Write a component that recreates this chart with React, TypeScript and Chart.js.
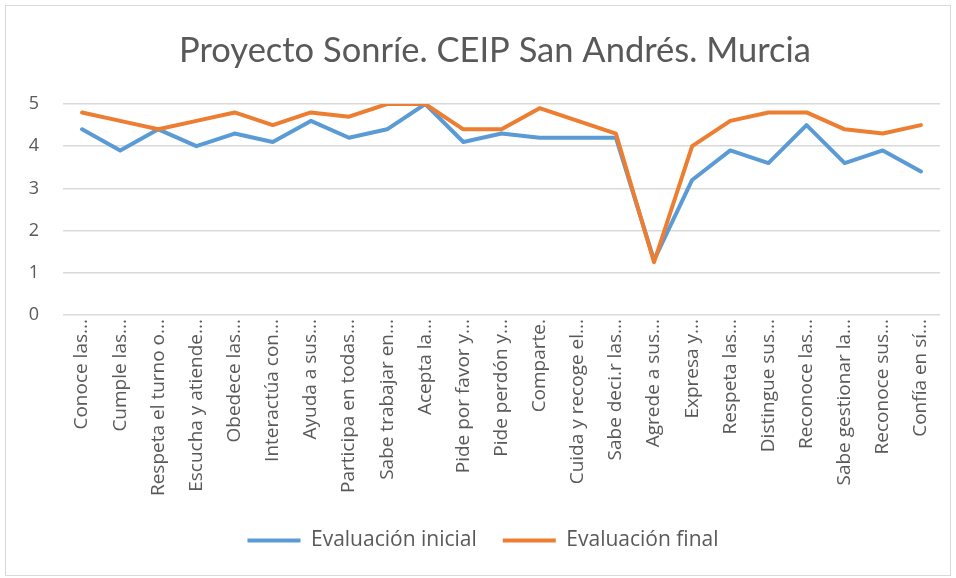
import React, { useEffect, useRef } from "react";
import { Chart, registerables } from "chart.js";

Chart.register(...registerables);

const TITLE = "Proyecto Sonríe. CEIP San Andrés. Murcia";

const categories: string[] = [
  "Conoce las...",
  "Cumple las...",
  "Respeta el turno o...",
  "Escucha y atiende...",
  "Obedece las...",
  "Interactúa con...",
  "Ayuda a sus...",
  "Participa en todas...",
  "Sabe trabajar en...",
  "Acepta la...",
  "Pide por favor y...",
  "Pide perdón y...",
  "Comparte.",
  "Cuida y recoge el...",
  "Sabe deci.r las...",
  "Agrede a sus...",
  "Expresa y...",
  "Respeta las...",
  "Distingue sus...",
  "Reconoce las...",
  "Sabe gestionar la...",
  "Reconoce sus...",
  "Confía en sí...",
];

const inicialLabel = "Evaluación inicial";
const finalLabel = "Evaluación final";

const inicial: number[] = [
  4.4, 3.9, 4.4, 4.0, 4.3, 4.1, 4.6, 4.2, 4.4, 5.0, 4.1, 4.3,
  4.2, 4.2, 4.2, 1.3, 3.2, 3.9, 3.6, 4.5, 3.6, 3.9, 3.4,
];

const final: number[] = [
  4.8, 4.6, 4.4, 4.6, 4.8, 4.5, 4.8, 4.7, 5.0, 5.0, 4.4, 4.4,
  4.9, 4.6, 4.3, 1.25, 4.0, 4.6, 4.8, 4.8, 4.4, 4.3, 4.5,
];

const yTicks: number[] = [0, 1, 2, 3, 4, 5];

const BLUE = "#5B9BD5";
const ORANGE = "#ED7D31";
const TEXT = "#595959";
const GRID = "#D9D9D9";

const titlePlugin = {
  id: "excelTitle",
  afterDraw(chart: any) {
    const ctx = chart.ctx;
    ctx.save();
    ctx.font = "normal 34.5px Lato, 'Open Sans', sans-serif";
    ctx.fillStyle = TEXT;
    ctx.textAlign = "center";
    ctx.textBaseline = "middle";
    ctx.fillText(TITLE, 489, 45);
    ctx.restore();
  },
};

export default function App() {
  const ref = useRef<HTMLCanvasElement | null>(null);

  useEffect(() => {
    if (!ref.current) return;
    const chart = new Chart(ref.current, {
      type: "line",
      data: {
        labels: categories,
        datasets: [
          {
            label: inicialLabel,
            data: inicial,
            borderColor: BLUE,
            backgroundColor: BLUE,
            borderWidth: 4,
            pointRadius: 0,
            tension: 0,
            order: 1,
            borderJoinStyle: "round",
            borderCapStyle: "round",
          },
          {
            label: finalLabel,
            data: final,
            borderColor: ORANGE,
            backgroundColor: ORANGE,
            borderWidth: 4,
            pointRadius: 0,
            tension: 0,
            order: 0,
            borderJoinStyle: "round",
            borderCapStyle: "round",
          },
        ],
      },
      plugins: [titlePlugin],
      options: {
        animation: false,
        responsive: false,
        maintainAspectRatio: false,
        layout: { padding: { left: 20, right: 10, top: 98, bottom: 14 } },
        plugins: {
          title: { display: false },
          legend: {
            position: "bottom",
            labels: {
              color: TEXT,
              font: { family: "'Open Sans', sans-serif", size: 21 },
              boxWidth: 53,
              boxHeight: 4,
              padding: 26,
              sort: (a: any, b: any) => a.datasetIndex - b.datasetIndex,
              generateLabels: (c: any) =>
                Chart.defaults.plugins.legend.labels
                  .generateLabels(c)
                  .map((it: any) => ({ ...it, lineWidth: 0 })),
            },
          },
          tooltip: { enabled: false },
        },
        scales: {
          x: {
            offset: true,
            grid: { display: false, drawTicks: false },
            border: { display: false },
            afterFit: (s: any) => {
              s.paddingLeft = 0;
              s.paddingRight = 0;
              s.height = 189;
            },
            ticks: {
              color: TEXT,
              font: { family: "'Open Sans', sans-serif", size: 19 },
              minRotation: 90,
              maxRotation: 90,
              autoSkip: false,
              padding: 4,
            },
          },
          y: {
            min: 0,
            max: 5,
            afterBuildTicks: (axis: any) => {
              axis.ticks = yTicks.map((v) => ({ value: v }));
            },
            afterFit: (s: any) => {
              s.width = 37;
            },
            grid: { color: GRID, lineWidth: 1.5, drawTicks: false },
            border: { display: false },
            ticks: {
              color: TEXT,
              font: { family: "'Open Sans', sans-serif", size: 18 },
              padding: 24,
            },
          },
        },
      },
    });
    return () => chart.destroy();
  }, []);

  return (
    <div
      style={{
        position: "fixed",
        left: 5,
        top: 5,
        width: 944,
        height: 569,
        border: "1px solid #D9D9D9",
        background: "#fff",
      }}
    >
      <canvas ref={ref} width={944} height={569} style={{ display: "block" }} />
    </div>
  );
}
